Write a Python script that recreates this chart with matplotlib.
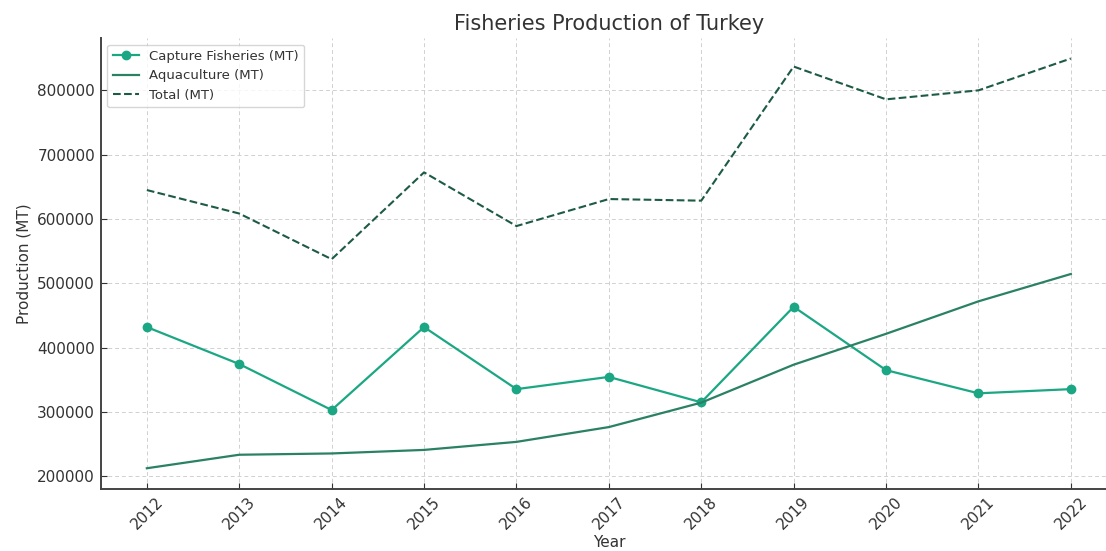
import numpy as np
import matplotlib.pyplot as plt

years = [2012, 2013, 2014, 2015, 2016, 2017, 2018, 2019, 2020, 2021, 2022]
capture = [432000, 374500, 303000, 432000, 335500, 354500, 315000, 463500, 365000, 329000, 335500]
aquaculture = [212500, 233500, 235500, 241000, 253500, 276500, 314500, 373500, 421500, 472000, 514500]
total = [645000, 608500, 537500, 672500, 589000, 631000, 628500, 837000, 786000, 800000, 849500]

txt = '#333333'
plt.rcParams['font.family'] = ['DejaVu Sans']

fig = plt.figure(figsize=(11.06, 5.51), dpi=100)
# right edge of the reference axes is slightly cropped off the picture
ax = fig.add_axes([0.091, 0.113, 0.919, 0.818])

ax.plot(years, capture, color='#1ba784', marker='o', markersize=6, linewidth=1.6, label='Capture Fisheries (MT)')
ax.plot(years, aquaculture, color='#2a8164', linewidth=1.6, label='Aquaculture (MT)')
ax.plot(years, total, color='#1d5b44', linestyle='--', linewidth=1.5, label='Total (MT)')

ax.set_title('Fisheries Production of Turkey', fontsize=15, color=txt, pad=6)
ax.set_xlabel('Year', fontsize=11, color=txt, labelpad=2)
ax.set_ylabel('Production (MT)', fontsize=11, color=txt)
ax.set_xticks(years)
ax.set_xticklabels([str(y) for y in years], rotation=45)
ax.tick_params(colors=txt, labelsize=11, direction='in', length=4, pad=4)

ax.grid(True, linestyle=(0, (4, 3)), color='#d0d0d0', linewidth=0.7)
ax.set_axisbelow(True)
for s in ['top', 'right']:
    ax.spines[s].set_visible(False)
for s in ['left', 'bottom']:
    ax.spines[s].set_color('#444444')
    ax.spines[s].set_linewidth(1.4)

leg = ax.legend(loc='upper left', fontsize=9.5, framealpha=0.8)
for t in leg.get_texts():
    t.set_color(txt)

fig.savefig('out.png', dpi=100)
